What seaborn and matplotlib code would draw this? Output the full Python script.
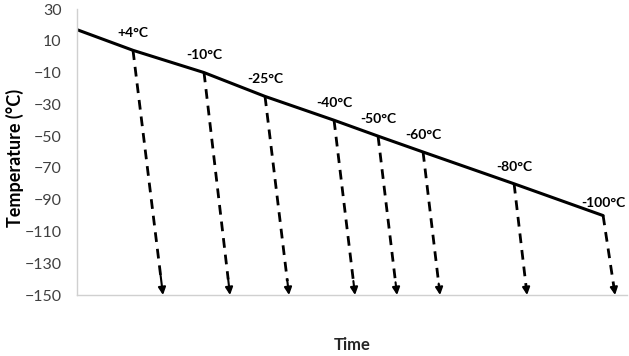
import matplotlib
matplotlib.use("Agg")
import matplotlib.pyplot as plt
import seaborn as sns
import pandas as pd
import numpy as np

# Data
labels = ["+4°C", "-10°C", "-25°C", "-40°C", "-50°C", "-60°C", "-80°C", "-100°C"]
temps = [4, -10, -25, -40, -50, -60, -80, -100]
x_start = [56, 127, 188, 257, 301, 346, 437, 526]
x_end = [86, 153, 212, 278, 320, 363, 450, 538]
line_x = [0] + x_start
line_y = [17] + temps
y_ticks = [30, 10, -10, -30, -50, -70, -90, -110, -130, -150]

sns.set_style("white")
plt.rcParams["font.family"] = ["Lato", "DejaVu Sans"]

fig = plt.figure(figsize=(6.29, 3.56), dpi=100)
ax = fig.add_axes([0.1224, 0.1713, 0.8746, 0.8034])

df = pd.DataFrame({"x": line_x, "y": line_y})
sns.lineplot(data=df, x="x", y="y", ax=ax, color="black", lw=2.2, sort=False)

ymin = -150
for lab, t, xs, xe in zip(labels, temps, x_start, x_end):
    dx, dy = xe - xs, ymin - t
    frac = 0.93
    ax.plot([xs, xs + dx * frac], [t, t + dy * frac], color="black", lw=2,
            linestyle=(0, (3.5, 2.5)), solid_capstyle="butt", dash_capstyle="butt")
    ax.annotate("", xy=(xe, ymin), xytext=(xs + dx * 0.92, t + dy * 0.92),
                arrowprops=dict(arrowstyle="-|>", color="black", lw=1.5,
                                mutation_scale=11, shrinkA=0, shrinkB=0))
    off = 5 if t == -100 else 8
    ax.annotate(lab, xy=(xs, t), xytext=(0, off), textcoords="offset points",
                ha="center", va="bottom", fontsize=10, fontweight="bold", color="black")

ax.set_xlim(0, 550)
ax.set_ylim(-150, 30)
ax.set_yticks(y_ticks)
ax.set_xticks([])
ax.tick_params(axis="y", labelsize=11.5, labelcolor="#404040", length=0, pad=11)
for s in ["top", "right"]:
    ax.spines[s].set_visible(False)
for s in ["left", "bottom"]:
    ax.spines[s].set_color("#d0d0d0")
    ax.spines[s].set_linewidth(1)
ax.set_xlabel("Time", fontsize=12, fontweight="bold", labelpad=30)
ax.set_ylabel("")
fig.text(15 / 629, 1 - 158 / 356, "Temperature (°C)", rotation=90, ha="center", va="center",
         fontsize=13, fontweight="bold", color="black")

fig.savefig("out.png", dpi=100)
